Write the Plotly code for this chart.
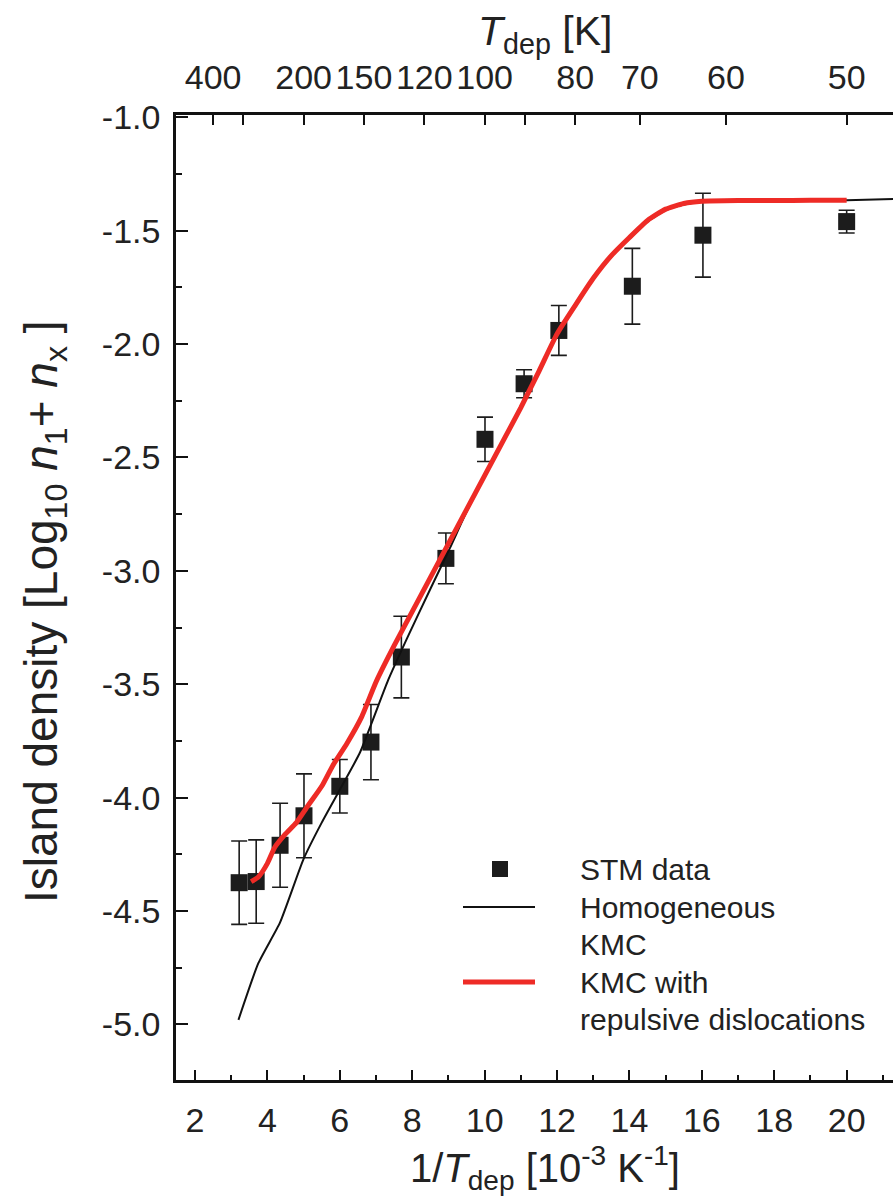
import plotly.graph_objects as go

# STM island densities (log10) vs inverse deposition temperature [1e-3 / K]
stm_x = [3.22, 3.69, 4.35, 5.01, 6.00, 6.86, 7.70, 8.93, 10.01, 11.09, 12.05, 14.08, 16.03, 20.00]
stm_y = [-4.375, -4.37, -4.21, -4.08, -3.95, -3.755, -3.38, -2.945, -2.42, -2.175, -1.94, -1.745, -1.52, -1.46]
stm_err = [0.184, 0.184, 0.185, 0.185, 0.118, 0.166, 0.18, 0.112, 0.098, 0.062, 0.11, 0.167, 0.185, 0.05]

# Homogeneous KMC simulation
hom_x = [3.2, 3.75, 4.35, 5.0, 5.5, 6.0, 6.56, 7.34, 7.85, 8.5, 9.04, 9.5, 10.0, 10.5, 11.0, 11.5,
         12.0, 12.5, 13.0, 13.5, 14.0, 14.5, 15.0, 15.5, 16.0, 17.0, 18.0, 19.0, 20.0, 21.5]
hom_y = [-4.98, -4.73, -4.55, -4.27, -4.11, -3.965, -3.80, -3.48, -3.30, -3.08, -2.90, -2.74, -2.585,
         -2.435, -2.285, -2.125, -1.96, -1.835, -1.715, -1.615, -1.535, -1.46, -1.41, -1.385, -1.372,
         -1.367, -1.367, -1.366, -1.366, -1.36]

# KMC with repulsive dislocations
rep_x = [3.55, 3.75, 4.0, 4.2, 4.5, 4.8, 5.1, 5.5, 5.8, 6.2, 6.6, 7.0, 7.5, 8.0, 8.5, 9.0, 9.5, 10.0,
         10.5, 11.0, 11.5, 12.0, 12.5, 13.0, 13.5, 14.0, 14.5, 15.0, 15.5, 16.0, 17.0, 18.0, 19.0, 20.0]
rep_y = [-4.37, -4.35, -4.29, -4.22, -4.16, -4.11, -4.04, -3.95, -3.86, -3.76, -3.645, -3.49, -3.33,
         -3.18, -3.03, -2.88, -2.73, -2.58, -2.43, -2.28, -2.12, -1.955, -1.83, -1.71, -1.61, -1.53,
         -1.455, -1.405, -1.38, -1.37, -1.367, -1.367, -1.366, -1.366]

# Top axis: deposition temperature in K (labelled and unlabelled ticks)
temp_major = [400, 200, 150, 120, 100, 80, 70, 60, 50]
temp_minor = [300, 90]

FONT = "Liberation Sans, Arial, sans-serif"
W, H = 893, 1204
L, R, T, B = 176, 0, 115, 124
XR = [1.475, 21.28]
YR = [-5.245, -0.99]


def px_x(p):
    return (p - L) / (W - L - R)


def px_y(p):
    return (H - B - p) / (H - T - B)


fig = go.Figure()

fig.add_trace(go.Scatter(
    x=stm_x, y=stm_y, mode="markers",
    marker=dict(symbol="square", size=17, color="#1c1c1c"),
    error_y=dict(type="data", array=stm_err, visible=True, color="#1c1c1c", thickness=1.6, width=8),
    showlegend=False, cliponaxis=False,
))
fig.add_trace(go.Scatter(
    x=hom_x, y=hom_y, mode="lines",
    line=dict(color="#111111", width=2, shape="spline", smoothing=0.5),
    showlegend=False,
))
fig.add_trace(go.Scatter(
    x=rep_x, y=rep_y, mode="lines",
    line=dict(color="#ee2b26", width=5, shape="spline", smoothing=0.5),
    showlegend=False,
))
# invisible trace carrying the top temperature axis
fig.add_trace(go.Scatter(x=[1000 / t for t in temp_major], y=[None] * len(temp_major),
                         xaxis="x2", mode="markers", showlegend=False, hoverinfo="skip"))

axis_common = dict(showgrid=False, zeroline=False, linecolor="#111111", linewidth=2.5,
                   ticks="inside", tickcolor="#111111", tickwidth=2,
                   tickfont=dict(family=FONT, size=34, color="#222222"))

fig.update_layout(
    width=W, height=H,
    margin=dict(l=L, r=R, t=T, b=B),
    paper_bgcolor="white", plot_bgcolor="white",
    xaxis=dict(range=XR, tickvals=list(range(2, 22, 2)), ticklen=10, ticklabelstandoff=8,
               minor=dict(tickvals=list(range(3, 22, 2)), ticklen=5, ticks="inside",
                          tickcolor="#111111", tickwidth=2),
               **axis_common),
    xaxis2=dict(range=XR, overlaying="x", side="top", anchor="y",
                tickvals=[1000 / t for t in temp_major], ticktext=[str(t) for t in temp_major],
                ticklen=10, ticklabelstandoff=10,
                minor=dict(tickvals=[1000 / t for t in temp_minor], ticklen=10, ticks="inside",
                           tickcolor="#111111", tickwidth=2),
                **axis_common),
    yaxis=dict(range=YR, tickvals=[-5.0, -4.5, -4.0, -3.5, -3.0, -2.5, -2.0, -1.5, -1.0],
               ticktext=["-5.0", "-4.5", "-4.0", "-3.5", "-3.0", "-2.5", "-2.0", "-1.5", "-1.0"],
               ticklen=12, ticklabelstandoff=6,
               minor=dict(dtick=0.25, ticklen=6, ticks="inside", tickcolor="#111111", tickwidth=2),
               **axis_common),
)

annotations = [
    dict(text="1/<i>T</i><sub>dep</sub> [10<sup>-3</sup> K<sup>-1</sup>]", x=px_x(545), y=px_y(1168),
         xref="paper", yref="paper", showarrow=False,
         font=dict(family=FONT, size=40, color="#222222"), xanchor="center", yanchor="middle"),
    dict(text="<i>T</i><sub>dep</sub> [K]", x=px_x(545), y=px_y(34),
         xref="paper", yref="paper", showarrow=False,
         font=dict(family=FONT, size=41, color="#222222"), xanchor="center", yanchor="middle"),
    dict(text="Island density [Log<sub>10</sub> <i>n</i><sub>1</sub>+ <i>n</i><sub>x</sub> ]",
         x=px_x(44), y=px_y(612), xref="paper", yref="paper", showarrow=False, textangle=-90,
         font=dict(family=FONT, size=46, color="#222222"), xanchor="center", yanchor="middle"),
]

# legend drawn as shapes + text
leg_font = dict(family=FONT, size=30, color="#222222")
leg_text_x = px_x(578)
for txt, yc in [("STM data", 869), ("Homogeneous", 907), ("KMC", 944), ("KMC with", 982),
                ("repulsive dislocations", 1019)]:
    annotations.append(dict(text=txt, x=leg_text_x, y=px_y(yc), xref="paper", yref="paper",
                            showarrow=False, font=leg_font, xanchor="left", yanchor="middle"))

shapes = [
    dict(type="rect", xref="paper", yref="paper", x0=px_x(492), x1=px_x(508), y0=px_y(877), y1=px_y(861),
         fillcolor="#1c1c1c", line=dict(width=0)),
    dict(type="line", xref="paper", yref="paper", x0=px_x(463), x1=px_x(535), y0=px_y(907), y1=px_y(907),
         line=dict(color="#111111", width=2)),
    dict(type="line", xref="paper", yref="paper", x0=px_x(463), x1=px_x(535), y0=px_y(982), y1=px_y(982),
         line=dict(color="#ee2b26", width=5)),
]

fig.update_layout(annotations=annotations, shapes=shapes)
fig.write_html("out.html")
